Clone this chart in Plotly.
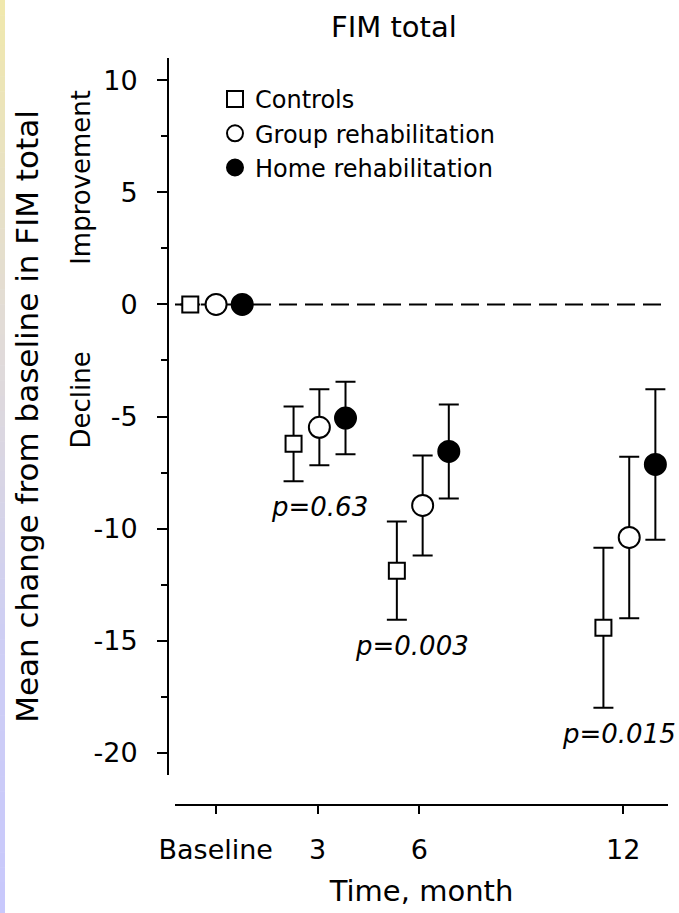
import plotly.graph_objects as go

# ---------------- data ----------------
months = [0, 3, 6, 12]
month_labels = ["Baseline", "3", "6", "12"]

controls_mean = [0.0, -6.22, -11.88, -14.43]
controls_ci = [0.0, 1.67, 2.19, 3.57]
group_mean = [0.0, -5.48, -8.97, -10.40]
group_ci = [0.0, 1.70, 2.23, 3.60]
home_mean = [0.0, -5.07, -6.56, -7.14]
home_ci = [0.0, 1.62, 2.10, 3.36]

p_months = [3, 6, 12]
p_labels = ["p=0.63", "p=0.003", "p=0.015"]

y_ticks = [-20, -15, -10, -5, 0, 5, 10]
y_tick_labels = ["-20", "-15", "-10", "-5", "0", "5", "10"]

# ---------------- style ----------------
FONT = "DejaVu Sans"
W, H = 679, 913
ML, MR, MT, MB = 168, 11, 58, 108
PW, PH = W - ML - MR, H - MT - MB


def px_to_paper_x(px):
    return (px - ML) / PW


def px_to_paper_y(py):
    return 1 - (py - MT) / PH


def dodge(offset):
    return [m * 1.014 + offset for m in months]


series = [
    ("Controls", controls_mean, controls_ci, -0.75, "square", 16, "white"),
    ("Group rehabilitation", group_mean, group_ci, 0.01, "circle", 21, "white"),
    ("Home rehabilitation", home_mean, home_ci, 0.78, "circle", 21, "black"),
]

fig = go.Figure()

for name, mean, ci, off, sym, size, fill in series:
    fig.add_trace(go.Scatter(
        x=dodge(off), y=mean, name=name, mode="markers",
        marker=dict(symbol=sym, size=size, color=fill,
                    line=dict(color="black", width=2)),
        error_y=dict(type="data", array=ci, visible=True, color="black",
                     thickness=2, width=10),
        cliponaxis=False,
    ))

# dashed zero reference line
fig.add_shape(type="line", xref="x domain", yref="y", x0=0, x1=1, y0=0, y1=0,
              line=dict(color="black", width=2, dash="18px,8px"), layer="below")

# p-value labels under each follow-up cluster
all_lows = [[m - c for m, c in zip(s[1], s[2])] for s in series]
p_xshift = [0, -10, -10]
for k, (pm, lab) in enumerate(zip(p_months, p_labels)):
    idx = months.index(pm)
    low = min(l[idx] for l in all_lows)
    fig.add_annotation(x=pm * 1.014, y=low - 1.17, xref="x", yref="y",
                       xanchor="center", yanchor="middle",
                       text="<i>" + lab + "</i>", showarrow=False,
                       xshift=p_xshift[k],
                       font=dict(family=FONT, size=26, color="black"))

# title
fig.add_annotation(x=px_to_paper_x(394), y=px_to_paper_y(27), xref="paper",
                   yref="paper", xanchor="center", yanchor="middle",
                   text="FIM total", showarrow=False,
                   font=dict(family=FONT, size=29, color="black"))

# Improvement / Decline side labels
for txt, yv in [("Improvement", 5.65), ("Decline", -4.29)]:
    fig.add_annotation(x=px_to_paper_x(81), y=yv, xref="paper", yref="y",
                       xanchor="center", yanchor="middle",
                       text=txt, showarrow=False, textangle=-90,
                       font=dict(family=FONT, size=26, color="black"))

# left gradient stripe
stops = [(0.0, (240, 232, 172)), (0.35, (226, 220, 214)),
         (0.7, (206, 206, 244)), (1.0, (200, 200, 252))]


def col_at(t):
    for (t0, c0), (t1, c1) in zip(stops[:-1], stops[1:]):
        if t0 <= t <= t1:
            f = (t - t0) / (t1 - t0)
            return "rgb(%d,%d,%d)" % tuple(round(a + (b - a) * f) for a, b in zip(c0, c1))
    return "rgb(%d,%d,%d)" % stops[-1][1]


n = 60
for i in range(n):
    y0p = H * i / n
    y1p = H * (i + 1) / n
    fig.add_shape(type="rect", xref="paper", yref="paper",
                  x0=px_to_paper_x(0), x1=px_to_paper_x(5),
                  y0=px_to_paper_y(y1p + 0.5), y1=px_to_paper_y(y0p),
                  fillcolor=col_at((i + 0.5) / n), line=dict(width=0),
                  layer="below")

axis_common = dict(showline=True, linecolor="black", linewidth=2,
                   ticks="outside", tickcolor="black", tickwidth=2,
                   showgrid=False, zeroline=False, automargin=False)

fig.update_layout(
    template="none",
    width=W, height=H,
    margin=dict(l=ML, r=MR, t=MT, b=MB, pad=0),
    paper_bgcolor="white", plot_bgcolor="white",
    font=dict(family=FONT, color="black"),
    showlegend=True,
    legend=dict(x=px_to_paper_x(215), y=px_to_paper_y(77),
                xanchor="left", yanchor="top",
                bgcolor="rgba(0,0,0,0)", borderwidth=0,
                font=dict(family=FONT, size=24, color="black"),
                itemwidth=30),
    xaxis=dict(domain=[7 / PW, 1], range=[-1.2, 13.32], anchor="free",
               position=0, tickvals=months, ticktext=month_labels,
               ticklen=8, ticklabelstandoff=13,
               tickfont=dict(family=FONT, size=27, color="black"),
               title=dict(text="Time, month", standoff=15,
                          font=dict(family=FONT, size=29, color="black")),
               **axis_common),
    yaxis=dict(domain=[30 / PH, 1], range=[-21, 11], anchor="free",
               position=0, tickvals=y_ticks, ticktext=y_tick_labels,
               ticklen=10, ticklabelstandoff=14,
               minor=dict(dtick=2.5, tick0=0, ticks="outside", ticklen=6,
                          tickwidth=2, tickcolor="black"),
               tickfont=dict(family=FONT, size=27, color="black"),
               title=dict(text="Mean change from baseline in FIM total",
                          standoff=45,
                          font=dict(family=FONT, size=31, color="black")),
               **axis_common),
)

fig.write_html("out.html")
